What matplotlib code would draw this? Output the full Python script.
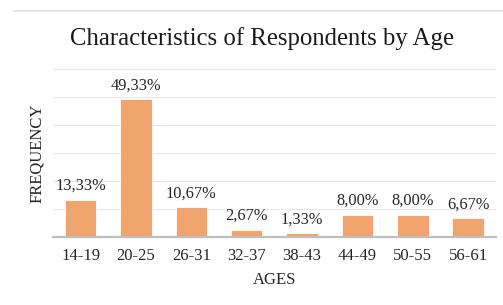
import matplotlib.pyplot as plt
from matplotlib.lines import Line2D

ages = ["14-19", "20-25", "26-31", "32-37", "38-43", "44-49", "50-55", "56-61"]
percent = [13.33, 49.33, 10.67, 2.67, 1.33, 8.00, 8.00, 6.67]
labels = ["13,33%", "49,33%", "10,67%", "2,67%", "1,33%", "8,00%", "8,00%", "6,67%"]

plt.rcParams["font.family"] = ["Liberation Serif", "DejaVu Serif"]

fig = plt.figure(figsize=(5.03, 3.05), dpi=100)
ax = fig.add_axes([0.105, 0.223, 0.881, 0.551])

x = range(len(ages))
bars = ax.bar(x, percent, width=0.57, color="#F1A46D", edgecolor="white", linewidth=0.6, zorder=3)

for rect, lbl in zip(bars, labels):
    ax.annotate(lbl, (rect.get_x() + rect.get_width() / 2, rect.get_height()),
                xytext=(0, 4), textcoords="offset points",
                ha="center", va="bottom", fontsize=11.8, color="#262626")

ax.set_xlim(-0.5, len(ages) - 0.5)
ax.set_ylim(0, 60)
ax.set_yticks(range(0, 61, 10))
ax.set_yticklabels([])
ax.tick_params(axis="y", length=0)
ax.tick_params(axis="x", length=0, pad=8, labelsize=12, labelcolor="#262626")
ax.set_xticks(list(x))
ax.set_xticklabels(ages)
ax.grid(axis="y", color="#E8E8E8", linewidth=0.8, zorder=0)

for side in ["top", "right", "left"]:
    ax.spines[side].set_visible(False)
ax.spines["bottom"].set_color("#BFBFBF")
ax.spines["bottom"].set_linewidth(1.6)
ax.spines["bottom"].set_zorder(4)

ax.set_xlabel("AGES", fontsize=12, color="#262626", labelpad=6)
ax.set_ylabel("FREQUENCY", fontsize=12, color="#262626", labelpad=2)
fig.text(0.52, 0.875, "Characteristics of Respondents by Age", fontsize=17.8,
         color="#1a1a1a", ha="center", va="center")

# thin frame line at top of the image
fig.add_artist(Line2D([0.028, 1.0], [0.964, 0.964], color="#E3E3E3", linewidth=1.2,
                      transform=fig.transFigure))

fig.savefig("out.png", dpi=100, facecolor="white")
